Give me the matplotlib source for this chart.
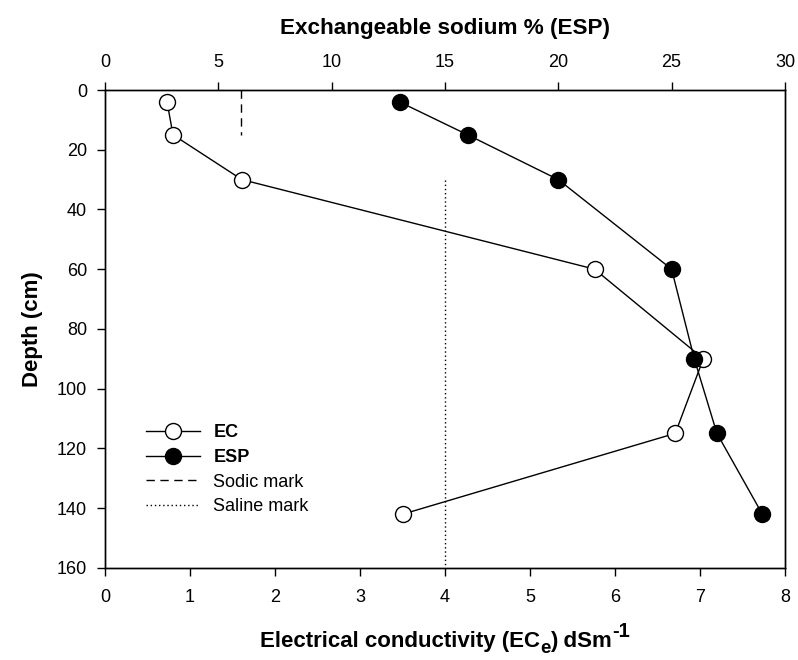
import matplotlib
matplotlib.use("Agg")
import matplotlib.pyplot as plt
from matplotlib.lines import Line2D
from matplotlib.transforms import IdentityTransform

plt.rcParams['font.family'] = ['Liberation Sans', 'DejaVu Sans']

depth = [4, 15, 30, 60, 90, 115, 142]
ec = [0.73, 0.80, 1.61, 5.76, 7.04, 6.71, 3.51]
esp = [13.0, 16.0, 20.0, 25.0, 26.0, 27.0, 29.0]

sodic_esp = 6
sodic_depth = [0, 15]
saline_ec = 4
saline_depth = [30, 160]

fig = plt.figure(figsize=(7.98, 6.6), dpi=100)
ax = fig.add_axes([0.1316, 0.1398, 0.852, 0.7238])
ax2 = ax.twiny()

ax.plot(ec, depth, color='black', lw=1.0, marker='o', markersize=11.5,
        markerfacecolor='white', markeredgecolor='black', markeredgewidth=1.0, zorder=3)
ax2.plot(esp, depth, color='black', lw=1.0, marker='o', markersize=11.5,
         markerfacecolor='black', markeredgecolor='black', zorder=3)
ax2.plot([sodic_esp, sodic_esp], sodic_depth, color='black', lw=1.0, ls=(0, (6, 4)))
ax.plot([saline_ec, saline_ec], saline_depth, color='black', lw=1.0, ls=(0, (1, 2)))

ax.set_xlim(0, 8)
ax2.set_xlim(0, 30)
ax.set_ylim(160, 0)
ax.set_xticks(range(0, 9))
ax2.set_xticks(range(0, 31, 5))
ax.set_yticks(range(0, 161, 20))

for a in (ax, ax2):
    a.tick_params(direction='out', length=6, width=1.0, labelsize=13, colors='black')
    for s in a.spines.values():
        s.set_linewidth(1.0)
ax.tick_params(axis='x', pad=9)
ax.tick_params(axis='y', pad=7)
ax2.tick_params(axis='x', pad=8)

ax2.set_xlabel('Exchangeable sodium % (ESP)', fontsize=16.2, fontweight='bold', labelpad=14)
ax.set_ylabel('Depth (cm)', fontsize=16, fontweight='bold', labelpad=10)

# bottom label composed of pieces (subscript / superscript)
pieces = [
    ('Electrical conductivity (EC', 16, 0),
    ('e', 13.5, -6),
    (') dSm', 16, 0),
    ('-1', 14.5, 10),
]
fig.canvas.draw()
renderer = fig.canvas.get_renderer()
texts = []
for s, fs, dy in pieces:
    t = fig.text(0, 0, s, fontsize=fs, fontweight='bold', va='baseline', ha='left',
                 transform=IdentityTransform())
    texts.append((t, dy))
widths = [t.get_window_extent(renderer).width for t, _ in texts]
ax_bb = ax.get_window_extent(renderer)
center = (ax_bb.x0 + ax_bb.x1) / 2
x = center - sum(widths) / 2
base = 13
for (t, dy), w in zip(texts, widths):
    t.set_position((x, base + dy))
    x += w

handles = [
    Line2D([], [], color='black', lw=1.0, marker='o', markersize=11.5,
           markerfacecolor='white', markeredgecolor='black'),
    Line2D([], [], color='black', lw=1.0, marker='o', markersize=11.5,
           markerfacecolor='black', markeredgecolor='black'),
    Line2D([], [], color='black', lw=1.0, ls=(0, (6, 4))),
    Line2D([], [], color='black', lw=1.0, ls=(0, (1, 2))),
]
labels = ['EC', 'ESP', 'Sodic mark', 'Saline mark']
leg = ax.legend(handles, labels, loc='upper left', bbox_to_anchor=(0.061, 0.3),
                frameon=False, fontsize=13, handlelength=2.95, handletextpad=0.75,
                labelspacing=0.42, borderpad=0, borderaxespad=0)
for t in leg.get_texts()[:2]:
    t.set_fontweight('bold')

fig.savefig('out.png', dpi=100)
